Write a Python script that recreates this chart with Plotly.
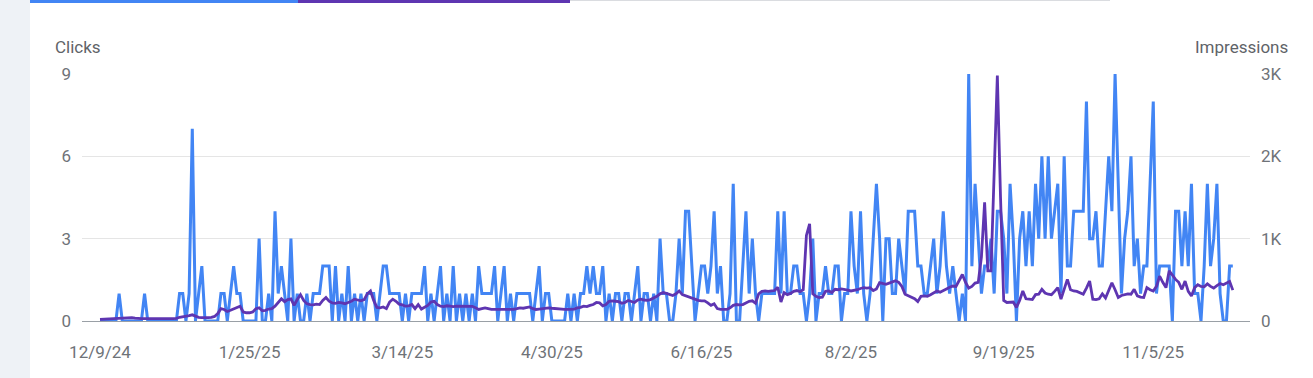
import pandas as pd
import plotly.graph_objects as go

start_date = "2024-12-09"

clicks = [
    0, 0, 0, 0, 0, 0, 1, 0, 0, 0,
    0, 0, 0, 0, 1, 0, 0, 0, 0, 0,
    0, 0, 0, 0, 0, 1, 1, 0, 1, 7,
    0, 1, 2, 0, 0, 0, 0, 0, 1, 1,
    0, 1, 2, 1, 1, 0, 0, 0, 0, 0,
    3, 0, 0, 1, 0, 4, 1, 2, 1, 0,
    3, 0, 1, 0, 0, 1, 0, 1, 1, 1,
    2, 2, 2, 0, 2, 0, 1, 0, 2, 0,
    1, 0, 1, 0, 1, 1, 1, 0, 1, 2,
    2, 1, 1, 1, 1, 0, 1, 0, 1, 1,
    1, 1, 2, 0, 1, 0, 1, 2, 0, 1,
    0, 2, 0, 1, 0, 1, 0, 1, 0, 2,
    1, 1, 1, 1, 2, 0, 1, 2, 0, 1,
    0, 1, 1, 1, 1, 1, 0, 1, 2, 0,
    1, 1, 0, 0, 0, 0, 0, 1, 0, 1,
    0, 1, 1, 2, 1, 2, 1, 1, 2, 0,
    1, 0, 1, 1, 0, 1, 1, 0, 1, 2,
    0, 1, 1, 0, 1, 0, 3, 1, 1, 0,
    0, 1, 3, 1, 4, 4, 2, 0, 1, 2,
    2, 1, 2, 4, 1, 2, 0, 0, 1, 5,
    0, 0, 2, 4, 1, 3, 1, 0, 1, 1,
    1, 1, 1, 4, 1, 4, 1, 1, 2, 2,
    1, 1, 0, 1, 3, 0, 1, 1, 2, 1,
    1, 2, 2, 0, 1, 1, 4, 2, 1, 4,
    1, 0, 1, 3, 5, 3, 0, 3, 3, 1,
    1, 3, 2, 1, 4, 4, 4, 2, 2, 1,
    1, 2, 3, 1, 2, 4, 2, 1, 2, 1,
    0, 1, 0, 9, 2, 5, 3, 1, 2, 2,
    3, 1, 4, 4, 3, 1, 5, 3, 0, 3,
    4, 2, 4, 2, 5, 3, 6, 3, 6, 3,
    4, 5, 1, 6, 2, 2, 4, 4, 4, 4,
    8, 3, 3, 4, 2, 2, 4, 6, 4, 9,
    5, 1, 3, 4, 6, 2, 3, 1, 2, 2,
    5, 8, 1, 2, 2, 2, 2, 0, 4, 4,
    2, 4, 2, 5, 1, 1, 0, 2, 5, 2,
    3, 5, 1, 0, 0, 2, 2,
]

impressions = [
    20, 22, 25, 25, 28, 30, 35, 32, 35, 38,
    42, 35, 30, 28, 30, 28, 26, 28, 25, 28,
    30, 26, 28, 30, 32, 45, 50, 55, 65, 75,
    60, 45, 40, 38, 40, 45, 55, 90, 150, 140,
    115, 130, 145, 165, 180, 110, 100, 100, 110, 150,
    160, 125, 130, 145, 150, 180, 230, 270, 235, 260,
    270, 190, 260, 320, 250, 210, 200, 195, 205, 200,
    250, 285, 240, 220, 215, 225, 220, 210, 225, 240,
    265, 255, 245, 260, 330, 365, 250, 165, 160, 170,
    150, 230, 265, 240, 205, 195, 180, 185, 200, 150,
    200, 145, 170, 190, 230, 240, 200, 180, 175, 185,
    180, 175, 180, 178, 182, 180, 175, 178, 160, 140,
    150, 160, 150, 140, 140, 140, 145, 140, 138, 140,
    142, 150, 160, 155, 165, 170, 150, 140, 145, 150,
    160, 160, 155, 150, 145, 140, 140, 142, 140, 145,
    160, 165, 180, 175, 190, 200, 225, 220, 185, 200,
    240, 245, 240, 235, 215, 225, 250, 235, 225, 255,
    265, 255, 250, 260, 280, 300, 330, 345, 335, 320,
    310, 330, 365, 320, 305, 290, 275, 260, 250, 245,
    245, 220, 190, 210, 150, 140, 140, 140, 160, 190,
    200, 195, 200, 220, 240, 245, 215, 330, 360, 365,
    360, 365, 370, 410, 230, 345, 320, 335, 360, 370,
    355, 380, 1040, 1180, 330, 300, 285, 290, 360, 365,
    345, 385, 380, 390, 385, 375, 365, 370, 380, 395,
    405, 400, 405, 370, 390, 465, 455, 445, 460, 478,
    490, 470, 420, 325, 305, 285, 270, 235, 300, 305,
    300, 320, 345, 365, 350, 375, 390, 410, 425, 420,
    490, 565, 470, 400, 420, 460, 470, 780, 1440, 610,
    610, 1800, 2980, 1500, 250, 225, 225, 230, 165, 250,
    365, 270, 265, 260, 320, 325, 385, 340, 325, 320,
    360, 405, 265, 380, 505, 380, 365, 360, 345, 325,
    400, 485, 265, 260, 270, 330, 280, 380, 465, 380,
    285, 310, 320, 330, 325, 385, 305, 290, 285, 405,
    380, 365, 420, 545, 470, 405, 610, 560, 505, 470,
    385, 485, 360, 305, 405, 440, 420, 415, 450, 420,
    400, 430, 455, 440, 460, 480, 375,
]

x_tick_dates = ["2024-12-09", "2025-01-25", "2025-03-14", "2025-04-30",
                "2025-06-16", "2025-08-02", "2025-09-19", "2025-11-05"]
x_tick_labels = ["12/9/24", "1/25/25", "3/14/25", "4/30/25",
                 "6/16/25", "8/2/25", "9/19/25", "11/5/25"]
clicks_ticks = [0, 3, 6, 9]
impr_ticks = [0, 1000, 2000, 3000]
impr_tick_labels = ["0", "1K", "2K", "3K"]

dates = pd.date_range(start_date, periods=len(clicks), freq="D")

W, H = 1313, 378
L, R, T, B = 82, 63, 74, 57
pw = W - L - R
ph = H - T - B

def px_x(p):
    return (p - L) / pw

def px_y(p):
    return (H - B - p) / ph

x0 = pd.Timestamp(start_date) - pd.Timedelta(days=5.66)
x1 = pd.Timestamp(start_date) + pd.Timedelta(days=361.4)

FONT = "Roboto, Arial, sans-serif"
TICK_COLOR = "#6f7378"
TITLE_COLOR = "#5f6368"

fig = go.Figure()
fig.add_trace(go.Scatter(
    x=dates, y=clicks, mode="lines", name="Clicks",
    line=dict(color="#4285f4", width=3), yaxis="y", cliponaxis=False,
))
fig.add_trace(go.Scatter(
    x=dates, y=impressions, mode="lines", name="Impressions",
    line=dict(color="#5e35b1", width=2.8), yaxis="y2", cliponaxis=False,
))

shapes = [
    dict(type="rect", xref="paper", yref="paper", x0=px_x(0), x1=px_x(30),
         y0=px_y(H), y1=px_y(0), fillcolor="#eef2f6", line=dict(width=0), layer="below"),
    dict(type="rect", xref="paper", yref="paper", x0=px_x(30), x1=px_x(298),
         y0=px_y(3), y1=px_y(0), fillcolor="#4285f4", line=dict(width=0)),
    dict(type="rect", xref="paper", yref="paper", x0=px_x(298), x1=px_x(570),
         y0=px_y(3), y1=px_y(0), fillcolor="#5e35b1", line=dict(width=0)),
    dict(type="rect", xref="paper", yref="paper", x0=px_x(570), x1=px_x(1110),
         y0=px_y(1), y1=px_y(0), fillcolor="#dadce0", line=dict(width=0)),
]

annotations = [
    dict(text="Clicks", xref="paper", yref="paper", x=px_x(53), y=px_y(47),
         xanchor="left", yanchor="middle", showarrow=False,
         font=dict(family=FONT, size=17, color=TITLE_COLOR)),
    dict(text="Impressions", xref="paper", yref="paper", x=px_x(1290), y=px_y(47),
         xanchor="right", yanchor="middle", showarrow=False,
         font=dict(family=FONT, size=17, color=TITLE_COLOR)),
]

fig.update_layout(
    width=W, height=H,
    margin=dict(l=L, r=R, t=T, b=B, pad=0),
    paper_bgcolor="white", plot_bgcolor="white",
    showlegend=False,
    font=dict(family=FONT, size=17, color=TICK_COLOR),
    shapes=shapes, annotations=annotations,
    hovermode=False,
    xaxis=dict(
        type="date", range=[x0, x1],
        tickvals=pd.to_datetime(x_tick_dates), ticktext=x_tick_labels,
        showgrid=False, zeroline=False,
        showline=True, linecolor="#9aa0a6", linewidth=1,
        ticks="", ticklabelstandoff=16,
        tickfont=dict(family=FONT, size=17, color=TICK_COLOR),
    ),
    yaxis=dict(
        range=[0, 9], tickvals=clicks_ticks,
        showgrid=True, gridcolor="#e5e5e5", gridwidth=1,
        zeroline=False, showline=False, ticks="", ticklabelstandoff=10,
        tickfont=dict(family=FONT, size=17, color=TICK_COLOR),
    ),
    yaxis2=dict(
        range=[0, 3000], tickvals=impr_ticks, ticktext=impr_tick_labels,
        overlaying="y", side="right", showgrid=False, zeroline=False,
        showline=False, ticks="", ticklabelstandoff=10,
        tickfont=dict(family=FONT, size=17, color=TICK_COLOR),
    ),
)

fig.write_html("out.html", config={"displayModeBar": False},
               post_script="document.body.style.margin='0';document.body.style.overflow='hidden';")
